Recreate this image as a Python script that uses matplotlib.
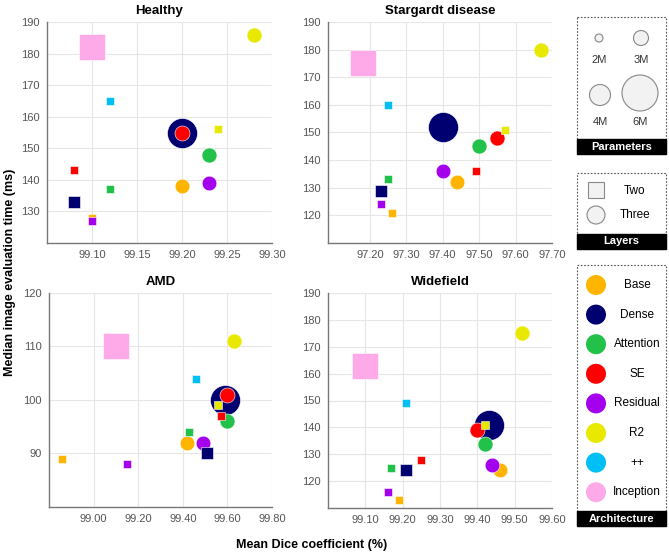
import numpy as np
import matplotlib
matplotlib.use("Agg")
import matplotlib.pyplot as plt
from matplotlib.patches import Rectangle, Circle

plt.rcParams['font.family'] = ['Liberation Sans', 'DejaVu Sans']

# architectures and their colours
archs = ['Base', 'Dense', 'Attention', 'SE', 'Residual', 'R2', '++', 'Inception']
colors = ['#FFB400', '#000070', '#22C24A', '#FF0000', '#A500EE', '#E9E900', '#00BFF5', '#FFAAE8']

# parameter counts (millions), two-layer (squares) and three-layer (circles)
params_two = [1.8, 2.6, 2.0, 2.0, 1.85, 2.0, 2.0, 4.7]
params_three = [2.95, 5.2, 3.0, 3.0, 2.95, 3.0, np.nan, np.nan]

# Healthy
healthy_dice_two = [99.10, 99.08, 99.12, 99.08, 99.10, 99.24, 99.12, 99.10]
healthy_time_two = [128, 133, 137, 143, 127, 156, 165, 182]
healthy_dice_three = [99.20, 99.20, 99.23, 99.20, 99.23, 99.28, np.nan, np.nan]
healthy_time_three = [138, 155, 148, 155, 139, 186, np.nan, np.nan]

# Stargardt disease
stargardt_dice_two = [97.26, 97.23, 97.25, 97.49, 97.23, 97.57, 97.25, 97.18]
stargardt_time_two = [121, 129, 133, 136, 124, 151, 160, 175]
stargardt_dice_three = [97.44, 97.40, 97.50, 97.55, 97.40, 97.67, np.nan, np.nan]
stargardt_time_three = [132, 152, 145, 148, 136, 180, np.nan, np.nan]

# AMD
amd_dice_two = [98.86, 99.51, 99.43, 99.57, 99.15, 99.56, 99.46, 99.10]
amd_time_two = [89, 90, 94, 97, 88, 99, 104, 110]
amd_dice_three = [99.42, 99.59, 99.60, 99.60, 99.49, 99.63, np.nan, np.nan]
amd_time_three = [92, 100, 96, 101, 92, 111, np.nan, np.nan]

# Widefield
widefield_dice_two = [99.19, 99.21, 99.17, 99.25, 99.16, 99.42, 99.21, 99.10]
widefield_time_two = [113, 124, 125, 128, 116, 141, 149, 163]
widefield_dice_three = [99.46, 99.43, 99.42, 99.40, 99.44, 99.52, np.nan, np.nan]
widefield_time_three = [124, 141, 134, 139, 126, 175, np.nan, np.nan]

legend_params = [2, 3, 4, 6]
legend_labels = ['2M', '3M', '4M', '6M']


def diam_px(p):
    # marker diameter in pixels for a parameter count
    return np.interp(p, [0, 2, 3, 4, 6], [0, 8, 15, 21, 36])


W, H = 669, 553
fig = plt.figure(figsize=(W / 100, H / 100), dpi=100)

panels = [
    ('Healthy', (47, 22, 272, 243), (99.05, 99.30), (120, 190),
     [99.10, 99.15, 99.20, 99.25, 99.30], range(130, 191, 10),
     healthy_dice_two, healthy_time_two, healthy_dice_three, healthy_time_three),
    ('Stargardt disease', (328, 22, 552, 243), (97.085, 97.70), (110, 190),
     [97.20, 97.30, 97.40, 97.50, 97.60, 97.70], range(120, 191, 10),
     stargardt_dice_two, stargardt_time_two, stargardt_dice_three, stargardt_time_three),
    ('AMD', (49, 293, 272, 507), (98.80, 99.80), (80, 120),
     [99.00, 99.20, 99.40, 99.60, 99.80], range(90, 121, 10),
     amd_dice_two, amd_time_two, amd_dice_three, amd_time_three),
    ('Widefield', (328, 293, 552, 508), (99.00, 99.60), (110, 190),
     [99.10, 99.20, 99.30, 99.40, 99.50, 99.60], range(120, 191, 10),
     widefield_dice_two, widefield_time_two, widefield_dice_three, widefield_time_three),
]

for title, box, xl, yl, xt, yt, dx2, ty2, dx3, ty3 in panels:
    l, t, r, b = box
    ax = fig.add_axes([l / W, 1 - b / H, (r - l) / W, (b - t) / H])
    ax.set_xlim(*xl)
    ax.set_ylim(*yl)
    ax.set_xticks(xt)
    ax.set_xticklabels(['%.2f' % v for v in xt])
    ax.set_yticks(list(yt))
    ax.grid(True, color='#E6E6E6', lw=0.8)
    ax.set_axisbelow(True)
    for s in ['top', 'right']:
        ax.spines[s].set_visible(False)
    for s in ['left', 'bottom']:
        ax.spines[s].set_color('#777777')
        ax.spines[s].set_linewidth(1.0)
    ax.tick_params(length=0, labelsize=8, labelcolor='#555555', pad=5)
    ax.set_title(title, fontsize=9.5, fontweight='bold', pad=6)

    # three-layer circles first, then two-layer squares
    for i in range(len(archs)):
        if np.isnan(dx3[i]):
            continue
        d = diam_px(params_three[i]) * 0.72
        ax.scatter(dx3[i], ty3[i], s=d ** 2, marker='o', color=colors[i],
                   edgecolors='white', linewidths=0.4, zorder=3, clip_on=False)
    for i in range(len(archs)):
        d = diam_px(params_two[i]) * 0.72
        ax.scatter(dx2[i], ty2[i], s=d ** 2, marker='s', color=colors[i],
                   edgecolors='white', linewidths=0.4, zorder=4, clip_on=False)

fig.text(312 / W, 1 - 545 / H, 'Mean Dice coefficient (%)', ha='center', va='center',
         fontsize=9, fontweight='bold')
fig.text(10 / W, 1 - 272 / H, 'Median image evaluation time (ms)', ha='center', va='center',
         rotation=90, fontsize=9, fontweight='bold')

# legend panels drawn in pixel coordinates
lg = fig.add_axes([0, 0, 1, 1], zorder=10)
lg.set_xlim(0, W)
lg.set_ylim(H, 0)
lg.axis('off')
lg.patch.set_alpha(0)

bx0, bx1 = 577, 666


def legend_box(top, bottom, label):
    lg.add_patch(Rectangle((bx0, top), bx1 - bx0, bottom - top, fill=False,
                           ec='#555555', lw=0.8, ls=(0, (1.5, 1.5))))
    lg.add_patch(Rectangle((bx0, bottom - 15), bx1 - bx0, 15, fc='black', ec='black'))
    lg.text((bx0 + bx1) / 2, bottom - 7.5, label, color='white', fontsize=8,
            fontweight='bold', ha='center', va='center')


# Parameters
legend_box(17, 154, 'Parameters')
pos = [(599, 38), (641, 38), (600, 95), (640, 93)]
lab_y = [60, 60, 122, 122]
for (cx, cy), p, lab, ly in zip(pos, legend_params, legend_labels, lab_y):
    lg.add_patch(Circle((cx, cy), diam_px(p) / 2, fc='#F2F2F2', ec='#888888', lw=0.8))
    lg.text(cx, ly, lab, fontsize=8, color='#333333', ha='center', va='center')

# Layers
legend_box(173, 249, 'Layers')
lg.add_patch(Rectangle((596 - 8, 190 - 8), 16, 16, fc='#F2F2F2', ec='#888888', lw=0.8))
lg.add_patch(Circle((596, 215), 9, fc='#F2F2F2', ec='#888888', lw=0.8))
lg.text(635, 191, 'Two', fontsize=8.5, ha='center', va='center')
lg.text(635, 215, 'Three', fontsize=8.5, ha='center', va='center')

# Architecture
legend_box(265, 526, 'Architecture')
for i, name in enumerate(archs):
    cy = 285 + i * 29.6
    lg.add_patch(Circle((596, cy), 10, fc=colors[i], ec='none'))
    lg.text(637, cy, name, fontsize=8.5, ha='center', va='center')

fig.savefig('out.png', dpi=100)
